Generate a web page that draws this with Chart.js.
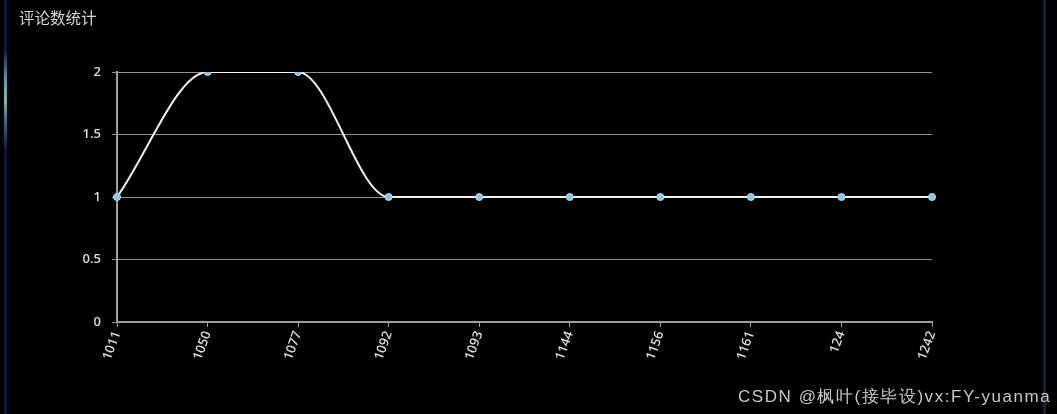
<!DOCTYPE html>
<html>
<head>
<meta charset="utf-8">
<script src="https://cdn.jsdelivr.net/npm/chart.js@4.4.1/dist/chart.umd.min.js"></script>
<style>
  html, body { margin: 0; padding: 0; background: #000; overflow: hidden; }
  #wrap { position: relative; width: 1057px; height: 414px; background: #000; }
  #myChart { position: absolute; left: 0; top: 0; }
  .title { position: absolute; left: 19px; top: 6px; color: #d8d8d8; font: 15.5px "Noto Sans CJK SC", sans-serif; }
  .mark { position: absolute; left: 738px; top: 385px; color: #c8c8c8; font: 17px "Liberation Sans", Arial, sans-serif; letter-spacing: 1.55px; white-space: nowrap; }
  .edge-l { position: absolute; left: 4px; top: 0; width: 3px; height: 414px;
    background: linear-gradient(#0c1a3a 0px, #0c1a3a 50px, #5f9ea8 80px, #7fb7bd 100px, #3d6f80 120px, #0c1a3a 150px, #0c1a3a 414px); }
  .edge-r { position: absolute; left: 1043px; top: 0; width: 3px; height: 414px; background: #0f2145; }
</style>
</head>
<body>
<div id="wrap">
  <canvas id="myChart" width="1057" height="414"></canvas>
  <div class="edge-l"></div>
  <div class="edge-r"></div>
  <div class="title">评论数统计</div>
  <div class="mark">CSDN @枫叶(接毕设)vx:FY-yuanma</div>
</div>
<script>
const categories = ["1011", "1050", "1077", "1092", "1093", "1144", "1156", "1161", "124", "1242"];
const commentCounts = [1, 2, 2, 1, 1, 1, 1, 1, 1, 1];
const yTicks = [0, 0.5, 1, 1.5, 2];

const data = {
  labels: categories,
  datasets: [
    {
      label: "评论数",
      data: commentCounts,
      borderColor: "#f2f2f2",
      borderWidth: 2,
      cubicInterpolationMode: "monotone",
      pointRadius: 3.5,
      pointBackgroundColor: "#8cc6e6",
      pointBorderColor: "#b9dcf0",
      pointBorderWidth: 1,
      fill: false,
    },
  ],
};

const config = {
  type: "line",
  data: data,
  options: {
    responsive: false,
    maintainAspectRatio: false,
    animation: false,
    layout: {
      padding: { top: 72, right: 125, left: 0, bottom: 32 },
    },
    scales: {
      x: {
        offset: false,
        grid: {
          display: true,
          drawOnChartArea: false,
          drawTicks: true,
          tickLength: 5,
          color: "#a0a0a0",
        },
        border: { display: true, color: "#a0a0a0", width: 2 },
        ticks: {
          autoSkip: false,
          minRotation: 70,
          maxRotation: 70,
          padding: 2,
          color: "#dadada",
          font: { family: "'Open Sans', sans-serif", size: 13, weight: "600" },
        },
        afterFit: (scale) => { scale.height = 60; },
      },
      y: {
        min: 0,
        max: 2,
        grid: {
          color: "#929292",
          tickLength: 5,
          lineWidth: 1,
        },
        border: { display: true, color: "#a0a0a0", width: 2 },
        ticks: {
          stepSize: 0.5,
          padding: 11,
          color: "#dadada",
          font: { family: "'Open Sans', sans-serif", size: 13, weight: "600" },
          callback: (value) => (yTicks.includes(value) ? String(value) : ""),
        },
        afterFit: (scale) => { scale.width = 117; },
      },
    },
    plugins: {
      legend: { display: false },
      title: { display: false },
      tooltip: { enabled: false },
    },
  },
};

const ctx = document.getElementById("myChart").getContext("2d");
new Chart(ctx, config);
</script>
</body>
</html>
